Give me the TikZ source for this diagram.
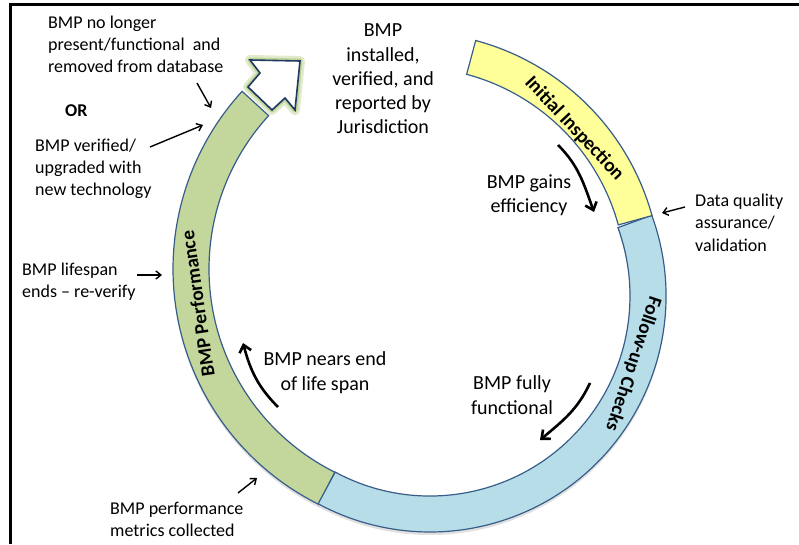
\documentclass[tikz,border=0pt]{standalone}
\usepackage{fontspec}
\setmainfont{Carlito}
\usetikzlibrary{arrows.meta}

\definecolor{ringline}{HTML}{385D8A}
\definecolor{yellowfill}{HTML}{FFFF99}
\definecolor{bluefill}{HTML}{B7DEE8}
\definecolor{greenfill}{HTML}{C3D69B}
\definecolor{glowgreen}{HTML}{9BBB59}
\definecolor{headline}{HTML}{1F3864}

\begin{document}
\begin{tikzpicture}[x=1pt,y=1pt,
  band/.style={draw=ringline,line width=1.2pt},
  bandlabel/.style={font=\fontsize{19.5}{23}\selectfont\bfseries,inner sep=0pt},
  note/.style={font=\fontsize{18}{22}\selectfont,align=left,anchor=base west,inner sep=0pt},
  bignote/.style={font=\fontsize{20}{24.3}\selectfont,align=center,anchor=base,inner sep=0pt},
  flowarrow/.style={line width=2.6pt,-{Straight Barb[length=7pt,width=12pt]}},
  pointer/.style={line width=1.4pt,-{Straight Barb[length=5pt,width=8pt]}}]
\useasboundingbox (0,0) rectangle (799,544);
% frame
\draw[line width=3pt] (10,0) -- (10,539) -- (799,539);

% ring centres
\coordinate (cy) at (411,262);
\coordinate (cb) at (430,248);
\coordinate (cg) at (436,275);

% shadow under the ring
\fill[black,opacity=.12] ([yshift=-3pt]cb) ++(20:236) arc[start angle=20,end angle=-118.3,radius=236] -- ++(61.7:36) arc[start angle=-118.3,end angle=20,radius=200] -- cycle;
\fill[black,opacity=.12] ([yshift=-3pt]cg) ++(243.5:263) arc[start angle=243.5,end angle=190,radius=263] -- ++(10:36) arc[start angle=190,end angle=243.5,radius=227] -- cycle;

% ring bands
\draw[band,fill=greenfill] (cg) ++(243.5:263) arc[start angle=243.5,end angle=137.5,radius=263] -- ++(317.5:36) arc[start angle=137.5,end angle=243.5,radius=227] -- cycle;
\draw[band,fill=bluefill] (cb) ++(20:236) arc[start angle=20,end angle=-118.3,radius=236] -- ++(61.7:36) arc[start angle=-118.3,end angle=20,radius=200] -- cycle;
\draw[band,fill=yellowfill] (cy) ++(75:250) arc[start angle=75,end angle=15.4,radius=250] -- ++(195.4:35) arc[start angle=15.4,end angle=75,radius=215] -- cycle;

% arrow head with glow
\draw[glowgreen,opacity=.3,line width=10pt,line join=round] (250,484) -- (300,483) -- (295,434) -- (285,446) -- (272,434) -- (248,457) -- (260,471) -- cycle;
\draw[glowgreen,opacity=.45,line width=5pt,line join=round] (250,484) -- (300,483) -- (295,434) -- (285,446) -- (272,434) -- (248,457) -- (260,471) -- cycle;
\draw[headline,fill=white,line width=1.6pt] (250,484) -- (300,483) -- (295,434) -- (285,446) -- (272,434) -- (248,457) -- (260,471) -- cycle;

% band labels
\node[bandlabel,rotate=-46.8] (inspect) at ([shift={(43.2:224)}]cy) {Initial Inspection};
\node[bandlabel,rotate=-108.4] (followup) at ([shift={(-18.4:214)}]cb) {Follow-up Checks};
\node[bandlabel,rotate=98.3] (perform) at ([shift={(188.3:241)}]cg) {BMP Performance};

% notes (anchored at the baseline of their last line)
\node[note] (removed) at (48,471) {BMP no longer\\present/functional\ \ and\\removed from database};
\node[note,font=\fontsize{18}{22}\selectfont\bfseries] (ornote) at (65,427) {OR};
\node[note] (upgraded) at (35,348) {BMP verified/\\upgraded with\\new technology};
\node[note] (lifespan) at (22,247) {BMP lifespan\\ends – re-verify};
\node[note] (metrics) at (110,8) {BMP performance\\metrics collected};
\node[note] (quality) at (695,293) {Data quality\\assurance/\\validation};
\node[bignote] (installed) at (383,410) {BMP\\installed,\\verified, and\\reported by\\Jurisdiction};
\node[bignote] (gains) at (529,331) {BMP gains\\efficiency};
\node[bignote] (nears) at (325,154) {BMP nears end\\of life span};
\node[bignote] (fully) at (512,130) {BMP fully\\functional};

% curved flow arrows
\coordinate (gainstail) at (558,399);
\coordinate (gainshead) at (594,332);
\coordinate (nearstail) at (278,137);
\coordinate (nearshead) at (243,201);
\coordinate (fullytail) at (590,161);
\coordinate (fullyhead) at (540,104);
\draw[flowarrow] (gainstail) to[out=-45,in=110] (gainshead);
\draw[flowarrow] (nearstail) to[out=135,in=-75] (nearshead);
\draw[flowarrow] (fullytail) to[out=-115,in=40] (fullyhead);

% pointers
\coordinate (removedtail) at (197,461);
\coordinate (removedtip) at (211,436);
\coordinate (upgradedtail) at (150,397);
\coordinate (upgradedtip) at (203,419);
\coordinate (lifespantail) at (137,269);
\coordinate (lifespantip) at (162,269);
\coordinate (metricstail) at (238,51);
\coordinate (metricstip) at (257,66);
\coordinate (qualitytail) at (685,337);
\coordinate (qualitytip) at (662,331);
\draw[pointer] (removedtail) -- (removedtip);
\draw[pointer] (upgradedtail) -- (upgradedtip);
\draw[pointer] (lifespantail) -- (lifespantip);
\draw[pointer] (metricstail) -- (metricstip);
\draw[pointer] (qualitytail) -- (qualitytip);
\end{tikzpicture}
\end{document}
